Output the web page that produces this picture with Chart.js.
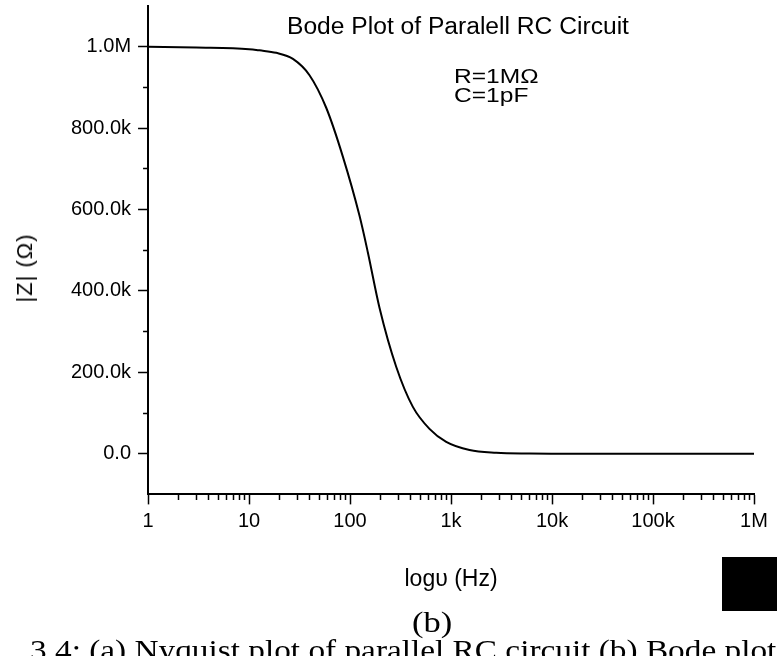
<!DOCTYPE html>
<html lang="en">
<head>
<meta charset="UTF-8">
<title>Bode Plot of Paralell RC Circuit</title>
<script src="https://cdn.jsdelivr.net/npm/chart.js"></script>
<style>
  html, body { margin: 0; padding: 0; background: #fff; }
  #wrap { position: relative; width: 777px; height: 656px; overflow: hidden; }
  #bode { position: absolute; left: 0; top: 0; }
  .txt { position: absolute; color: #000; white-space: nowrap; line-height: 1; font-family: "Liberation Sans", Arial, sans-serif; transform-origin: 0 0; }
  .serif { font-family: "Liberation Serif", "Times New Roman", serif; }
</style>
</head>
<body>
<div id="wrap">
  <canvas id="bode" width="777" height="656"></canvas>

  <!-- labels that sit inside the plot frame -->
  <div class="txt" style="left:287px; top:15px; font-size:23px; transform: scaleX(1.07);">Bode Plot of Paralell RC Circuit</div>
  <div class="txt" style="left:454px; top:65px; font-size:21px; transform: scaleX(1.17);">R=1MΩ</div>
  <div class="txt" style="left:454px; top:84px; font-size:21px; transform: scaleX(1.17);">C=1pF</div>
  <div class="txt" style="left:25px; top:268px; font-size:22px; letter-spacing:1px; transform-origin: 50% 50%; transform: translate(-50%, -50%) rotate(-90deg);">|Z| (Ω)</div>

  <!-- figure caption below the chart -->
  <div class="txt serif" style="left:412px; top:607px; font-size:30px; transform: scaleX(1.15);">(b)</div>
  <div class="txt serif" style="left:30px; top:635px; font-size:30px; transform: scaleX(1.11);">3.4: (a) Nyquist plot of parallel RC circuit (b) Bode plot</div>
  <div style="position:absolute; left:722px; top:557px; width:55px; height:54px; background:#000;"></div>
</div>

<script>
    // frequency (Hz) and |Z| (ohm)
    var freq = [1, 3, 10, 12.7, 18.6, 27.2, 39.7, 58.1, 84.9, 124, 150, 196, 287, 419, 612, 896, 1525, 2803, 5990, 10000, 100000, 1000000];
    var impedance = [1000000, 998000, 994000, 991000, 985000, 970000, 930000, 850000, 730000, 585000, 495000, 358000, 213000, 115000, 61000, 29000, 9000, 2500, 500, 0, 0, 0];

    var xTickValues = [1, 10, 100, 1000, 10000, 100000, 1000000];
    var xTickLabels = ['1', '10', '100', '1k', '10k', '100k', '1M'];
    var yTickValues = [0, 200000, 400000, 600000, 800000, 1000000];
    var yTickLabels = ['0.0', '200.0k', '400.0k', '600.0k', '800.0k', '1.0M'];

    var fontFamily = '"Liberation Sans", Arial, sans-serif';

    // every 1..9 x 10^k on the log axis, 100k steps for |Z|
    var xAllTicks = [];
    for (var k = 0; k < 6; k++) {
        for (var m = 1; m < 10; m++) xAllTicks.push(m * Math.pow(10, k));
    }
    xAllTicks.push(1000000);
    var yAllTicks = [];
    for (var v = 0; v <= 1000000; v += 100000) yAllTicks.push(v);

    function isXMajor(val) { return xTickValues.indexOf(val) >= 0; }
    function isYMajor(val) { return yTickValues.indexOf(val) >= 0; }

    var points = freq.map(function (f, i) { return { x: f, y: impedance[i] }; });

    new Chart(document.getElementById('bode'), {
        type: 'line',
        data: {
            datasets: [{
                data: points,
                borderColor: '#000',
                borderWidth: 2,
                pointRadius: 0,
                fill: false,
                cubicInterpolationMode: 'monotone'
            }]
        },
        options: {
            responsive: false,
            animation: false,
            layout: { padding: { left: 71, right: 23, top: 6, bottom: 63 } },
            plugins: {
                legend: { display: false },
                tooltip: { enabled: false }
            },
            scales: {
                x: {
                    type: 'logarithmic',
                    min: 1,
                    max: 1000000,
                    afterBuildTicks: function (scale) {
                        scale.ticks = xAllTicks.map(function (t) { return { value: t }; });
                    },
                    ticks: {
                        autoSkip: false,
                        maxRotation: 0,
                        padding: 5,
                        color: '#000',
                        font: { family: fontFamily, size: 20 },
                        callback: function (value) {
                            var i = xTickValues.indexOf(value);
                            return i >= 0 ? xTickLabels[i] : '';
                        }
                    },
                    grid: {
                        drawOnChartArea: false,
                        tickLength: 10,
                        tickColor: '#000',
                        tickWidth: 1.5,
                        // minor ticks: only the first 5px of the mark
                        tickBorderDash: function (ctx) {
                            return ctx.tick && !isXMajor(ctx.tick.value) ? [5, 50] : [];
                        }
                    },
                    border: { display: true, color: '#000', width: 2 },
                    title: {
                        display: true,
                        text: 'logυ (Hz)',
                        color: '#000',
                        font: { family: fontFamily, size: 23 },
                        padding: { top: 27, bottom: 0 }
                    }
                },
                y: {
                    min: -100000,
                    max: 1100000,
                    afterBuildTicks: function (scale) {
                        scale.ticks = yAllTicks.map(function (t) { return { value: t }; });
                    },
                    ticks: {
                        autoSkip: false,
                        padding: 0,
                        color: '#000',
                        font: { family: fontFamily, size: 20, lineHeight: 0.5 },
                        callback: function (value) {
                            var i = yTickValues.indexOf(value);
                            return i >= 0 ? yTickLabels[i] : '';
                        }
                    },
                    grid: {
                        drawOnChartArea: false,
                        tickLength: 17,
                        tickColor: '#000',
                        tickWidth: 1.5,
                        // 7px gap before the label, 10px major / 5px minor marks
                        tickBorderDash: function (ctx) {
                            if (!ctx.tick) return [];
                            return isYMajor(ctx.tick.value) ? [0, 7, 10, 50] : [0, 12, 5, 50];
                        }
                    },
                    border: { display: true, color: '#000', width: 2 }
                }
            }
        }
    });
</script>
</body>
</html>
